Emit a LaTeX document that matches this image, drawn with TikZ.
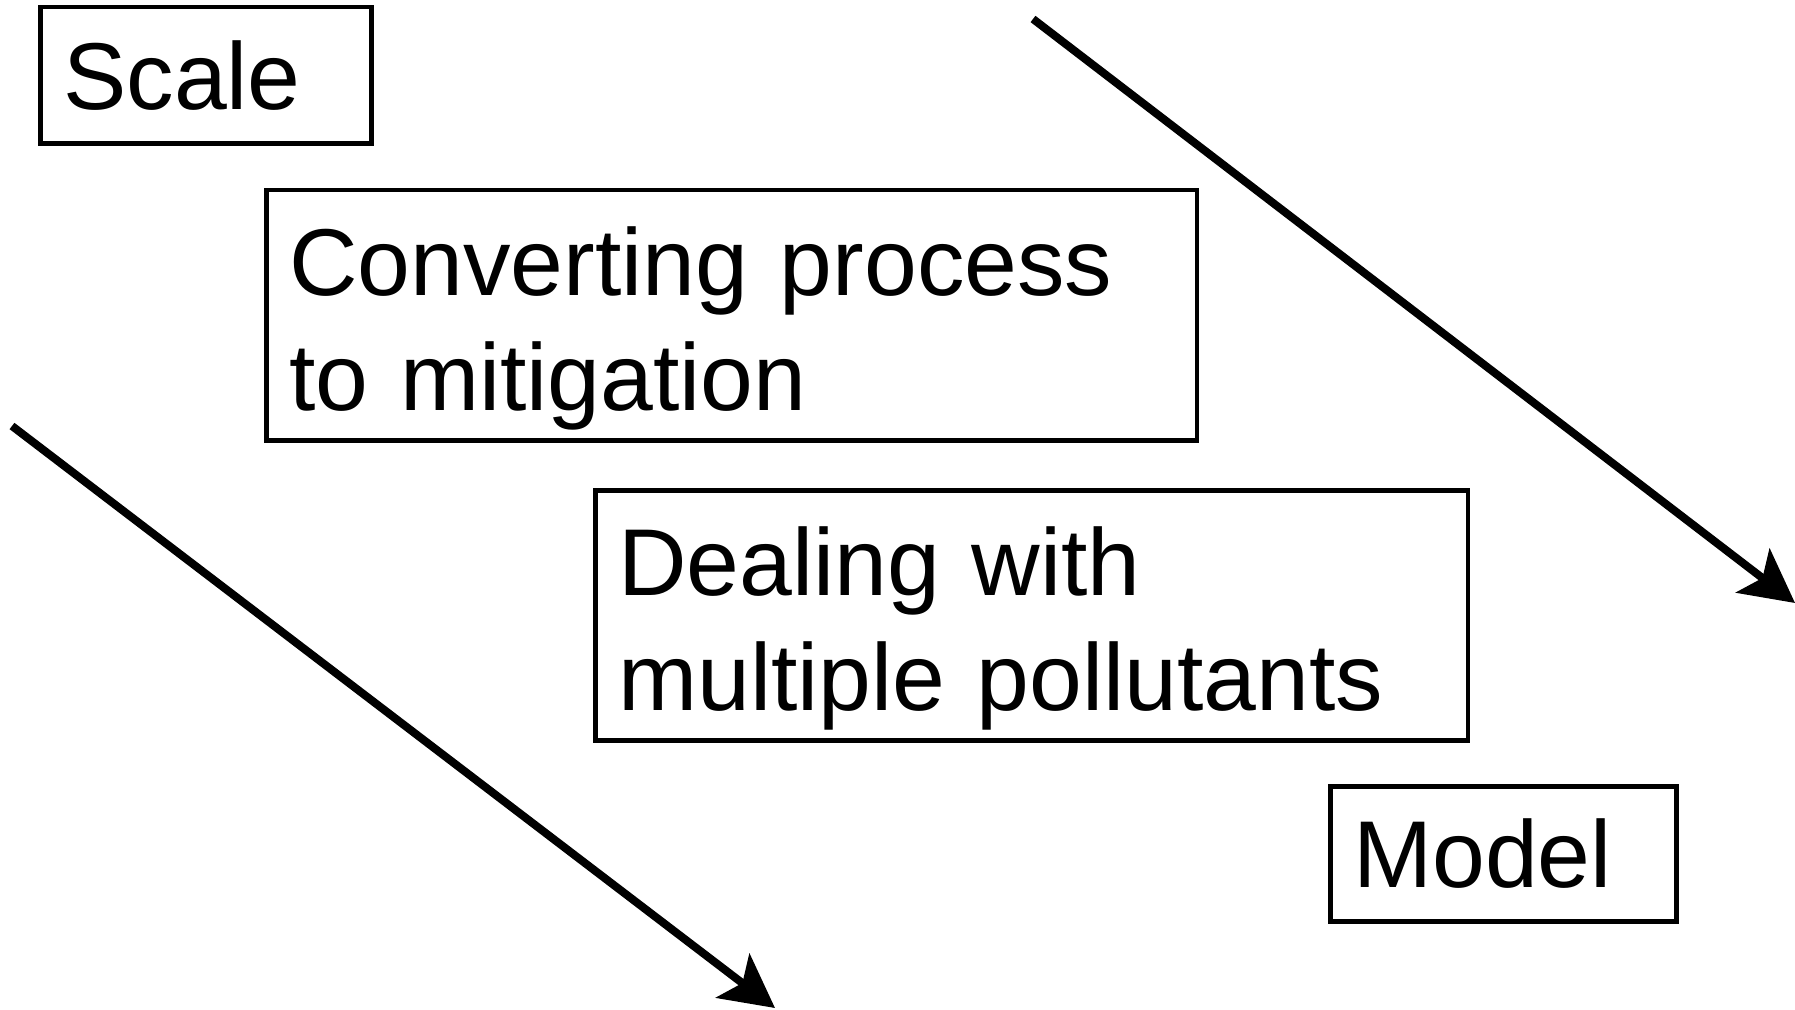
\documentclass[tikz,border=0pt]{standalone}
\usepackage{fontspec}
\setmainfont{Liberation Sans}
\usetikzlibrary{arrows.meta}

\tikzset{
	box/.style={draw, line width=0.045cm, anchor=north west, inner xsep=0.23cm, inner ysep=0pt, align=left, font=\fontsize{27}{32.7}\selectfont},
	twolines/.style={text depth=1.09cm},
	bigarrow/.style={line width=0.08cm, -{Stealth[length=0.53cm, width=0.55cm, inset=0.12cm]}}
}

\begin{document}
\begin{tikzpicture}[x=0.01cm, y=-0.01cm]
			%%%%% START %%%%%
			
			\useasboundingbox (0, 0) rectangle (1795, 1010);
			
			\node[box, text width=2.85cm, minimum height=1.36cm] (scale) at (38, 5) {Scale};
			\node[box, twolines, text width=8.84cm, minimum height=2.5cm] (convert) at (264, 188) {Converting process\\to mitigation};
			\node[box, twolines, text width=8.26cm, minimum height=2.5cm] (dealing) at (593, 488) {Dealing with\\multiple pollutants};
			\node[box, text width=3.0cm, minimum height=1.35cm] (model) at (1328, 784) {Model};
			
			\coordinate (startR) at (1033, 19);
			\coordinate (tipR) at (1795, 603);
			\coordinate (startL) at (12, 426);
			\coordinate (tipL) at (775, 1008);
			
			\draw[bigarrow] (startR) -- (tipR);
			\draw[bigarrow] (startL) -- (tipL);
			
			%%%%% END %%%%%
\end{tikzpicture}
\end{document}
